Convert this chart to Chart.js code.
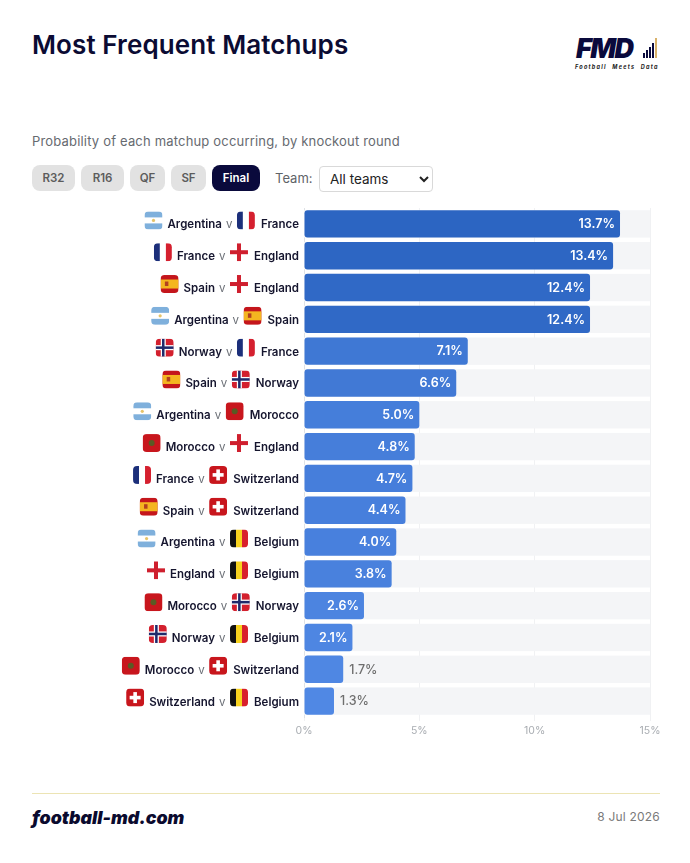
<!DOCTYPE html>
<html lang="en">
<head>
<meta charset="utf-8">
<title>Most Frequent Matchups</title>
<script src="https://cdn.jsdelivr.net/npm/chart.js@4"></script>
<style>
  html, body { margin: 0; padding: 0; background: #fff; }
  body { position: relative; width: 690px; height: 863px; overflow: hidden; font-family: Inter, sans-serif; }
  .abs { position: absolute; white-space: nowrap; }
  #title { left: 32px; top: 29px; font-size: 26px; line-height: 32px; font-weight: 600; color: #0b0b33; letter-spacing: 0.1px; }
  #subtitle { left: 32px; top: 133px; font-size: 13px; line-height: 16px; color: #666a70; letter-spacing: 0.18px; }
  .round { top: 165px; height: 26px; line-height: 26px; text-align: center; border-radius: 8px; background: #e2e2e2; color: #5c5c5c; font-size: 11.5px; font-weight: 600; }
  .round.active { background: #0a0a3c; color: #fff; }
  #teamLabel { left: 275px; top: 170px; font-size: 13px; line-height: 16px; color: #5f6368; }
  #teamSelect { left: 319px; top: 166px; width: 114px; height: 26px; font: 13.5px Inter, sans-serif; color: #222; background: #fff; border: 1px solid #d9d9d9; border-radius: 4px; padding-left: 6px; box-sizing: border-box; }
  #logoText { left: 576px; top: 36px; font-family: Inter, sans-serif; font-size: 27px; line-height: 25px; font-weight: 900; font-style: italic; color: #0a0a3c; letter-spacing: -1.6px; }
  #logoTag { left: 575px; top: 64px; font-size: 5.5px; line-height: 6px; font-weight: 700; font-style: italic; color: #222; letter-spacing: 1.25px; word-spacing: 3px; }
  .logoBar { position: absolute; bottom: 805px; width: 2px; background: #0a0a3c; }
  #chartBox { left: 0; top: 200px; width: 690px; height: 545px; }
  #rule { left: 32px; top: 793px; width: 628px; height: 1px; background: #ece4b4; }
  #site { left: 32px; top: 807px; font-size: 17.8px; line-height: 22px; font-weight: 900; font-style: italic; color: #0a0a2e; }
  #date { right: 30px; top: 809px; font-size: 12px; line-height: 16px; color: #7a7a7a; letter-spacing: 0.2px; }
</style>
</head>
<body>
  <div class="abs" id="title">Most Frequent Matchups</div>
  <div class="abs" id="logoText">FMD</div>
  <div class="logoBar" style="left:643px;height:5px"></div>
  <div class="logoBar" style="left:646px;height:8px"></div>
  <div class="logoBar" style="left:649px;height:11px"></div>
  <div class="logoBar" style="left:652px;height:15px"></div>
  <div class="logoBar" style="left:655px;height:20px;background:#d9b26a"></div>
  <div class="abs" id="logoTag">Football Meets Data</div>
  <div class="abs" id="subtitle">Probability of each matchup occurring, by knockout round</div>
  <div id="rounds"></div>
  <div class="abs" id="teamLabel">Team:</div>
  <select class="abs" id="teamSelect"><option>All teams</option></select>
  <div class="abs" id="chartBox"><canvas id="chart" width="690" height="545"></canvas></div>
  <div class="abs" id="rule"></div>
  <div class="abs" id="site">football-md.com</div>
  <div class="abs" id="date">8 Jul 2026</div>

<script>
// Finalist pairings and their probability (%) of occurring in the final
const homeTeams = ['Argentina','France','Spain','Argentina','Norway','Spain','Argentina','Morocco','France','Spain','Argentina','England','Morocco','Norway','Morocco','Switzerland'];
const awayTeams = ['France','England','England','Spain','France','Norway','Morocco','England','Switzerland','Switzerland','Belgium','Belgium','Norway','Belgium','Switzerland','Belgium'];
const probabilities = [13.7,13.4,12.4,12.4,7.1,6.6,5.0,4.8,4.7,4.4,4.0,3.8,2.6,2.1,1.7,1.3];
const xTickLabels = ['0%','5%','10%','15%'];
const roundNames = ['R32','R16','QF','SF','Final'];
const activeRound = 'Final';

// Round selector pills
const pillGeometry = [[32,43],[81,43],[130,35],[171,35],[212,48]];
const roundsEl = document.getElementById('rounds');
roundNames.forEach((name, i) => {
  const el = document.createElement('div');
  el.className = 'abs round' + (name === activeRound ? ' active' : '');
  el.style.left = pillGeometry[i][0] + 'px';
  el.style.width = pillGeometry[i][1] + 'px';
  el.textContent = name;
  roundsEl.appendChild(el);
});

// Flag painters: each fills a box already clipped to a rounded square
const paintFlag = {
  Argentina(c, x, y, s) {
    c.fillStyle = '#fff'; c.fillRect(x, y, s, s);
    c.fillStyle = '#7fb0dc';
    c.fillRect(x, y, s, s / 3); c.fillRect(x, y + 2 * s / 3, s, s / 3);
    c.fillStyle = '#e6c46a'; c.beginPath(); c.arc(x + s / 2, y + s / 2, 1.6, 0, 7); c.fill();
  },
  France(c, x, y, s) {
    c.fillStyle = '#1c2f7a'; c.fillRect(x, y, s / 3, s);
    c.fillStyle = '#fff'; c.fillRect(x + s / 3, y, s / 3, s);
    c.fillStyle = '#d5202f'; c.fillRect(x + 2 * s / 3, y, s / 3, s);
  },
  England(c, x, y, s) {
    c.fillStyle = '#fff'; c.fillRect(x, y, s, s);
    c.fillStyle = '#cf1f2e';
    c.fillRect(x + s / 2 - 2, y, 4, s); c.fillRect(x, y + s / 2 - 2, s, 4);
  },
  Spain(c, x, y, s) {
    c.fillStyle = '#c4161c'; c.fillRect(x, y, s, s);
    c.fillStyle = '#f4b620'; c.fillRect(x, y + s / 4, s, s / 2);
    c.fillStyle = '#b3411f'; c.fillRect(x + s * 0.24, y + s * 0.36, 3.5, 4.5);
  },
  Norway(c, x, y, s) {
    c.fillStyle = '#d3202e'; c.fillRect(x, y, s, s);
    c.fillStyle = '#fff';
    c.fillRect(x + s * 0.28, y, s * 0.28, s); c.fillRect(x, y + s * 0.36, s, s * 0.28);
    c.fillStyle = '#1f2a6b';
    c.fillRect(x + s * 0.35, y, s * 0.14, s); c.fillRect(x, y + s * 0.43, s, s * 0.14);
  },
  Morocco(c, x, y, s) {
    c.fillStyle = '#c8161d'; c.fillRect(x, y, s, s);
    c.fillStyle = '#5a5a24'; c.beginPath(); c.arc(x + s / 2, y + s / 2, 3, 0, 7); c.fill();
  },
  Switzerland(c, x, y, s) {
    c.fillStyle = '#c8161d'; c.fillRect(x, y, s, s);
    c.fillStyle = '#fff';
    c.fillRect(x + s / 2 - 1.8, y + 3.5, 3.6, s - 7); c.fillRect(x + 3.5, y + s / 2 - 1.8, s - 7, 3.6);
  },
  Belgium(c, x, y, s) {
    c.fillStyle = '#111'; c.fillRect(x, y, s / 3, s);
    c.fillStyle = '#f7d21e'; c.fillRect(x + s / 3, y, s / 3, s);
    c.fillStyle = '#d8202c'; c.fillRect(x + 2 * s / 3, y, s / 3, s);
  }
};

function drawFlag(c, team, x, cy) {
  const s = 18;
  c.save();
  c.beginPath();
  c.roundRect(x, cy - s / 2, s, s, team === 'England' ? 0 : 4);
  c.clip();
  paintFlag[team](c, x, cy - s / 2, s);
  c.restore();
}

// Darker blue for the more likely pairings
function barColor(v) {
  const t = (v - 1.3) / 12.4;
  const mix = (a, b) => Math.round(a + (b - a) * t);
  return `rgb(${mix(80, 44)},${mix(136, 101)},${mix(228, 194)})`;
}

// Pale full-width band behind every bar
const trackPlugin = {
  id: 'tracks',
  beforeDatasetsDraw(chart) {
    const { ctx, scales: { x } } = chart;
    ctx.save();
    ctx.fillStyle = '#f4f5f7';
    chart.getDatasetMeta(0).data.forEach(bar => {
      ctx.fillRect(x.getPixelForValue(0), bar.y - bar.height / 2, x.getPixelForValue(15) - x.getPixelForValue(0), bar.height);
    });
    ctx.restore();
  }
};

// Row labels with flags, placed from the category scale
const rowLabelPlugin = {
  id: 'rowLabels',
  afterDraw(chart) {
    const { ctx, scales: { x, y } } = chart;
    const right = x.getPixelForValue(0) - 5;
    ctx.save();
    ctx.textBaseline = 'middle';
    ctx.textAlign = 'left';
    homeTeams.forEach((home, i) => {
      const away = awayTeams[i];
      const cy = y.getPixelForValue(i);
      const textY = cy + 1;
      const flagY = cy - 3.5;
      ctx.font = '600 11.5px Inter, sans-serif';
      const awayW = ctx.measureText(away).width;
      const homeW = ctx.measureText(home).width;
      let cursor = right - awayW;
      ctx.fillStyle = '#15152e';
      ctx.fillText(away, cursor, textY);
      cursor -= 24;
      drawFlag(ctx, away, cursor, flagY);
      cursor -= 11;
      ctx.fillStyle = '#6b6f76';
      ctx.font = '400 11.5px Inter, sans-serif';
      ctx.fillText('v', cursor, textY);
      ctx.font = '600 11.5px Inter, sans-serif';
      cursor -= 4 + homeW;
      ctx.fillStyle = '#15152e';
      ctx.fillText(home, cursor, textY);
      cursor -= 23;
      drawFlag(ctx, home, cursor, flagY);
    });
    ctx.restore();
  }
};

// Percent labels: inside the bar when it is long enough, otherwise beside it
const valueLabelPlugin = {
  id: 'valueLabels',
  afterDatasetsDraw(chart) {
    const { ctx } = chart;
    ctx.save();
    ctx.textBaseline = 'middle';
    chart.getDatasetMeta(0).data.forEach((bar, i) => {
      const v = probabilities[i];
      const text = v.toFixed(1) + '%';
      if (v >= 2) {
        ctx.font = '600 12.5px Inter, sans-serif';
        ctx.fillStyle = '#fff';
        ctx.textAlign = 'right';
        ctx.fillText(text, bar.x - 5, bar.y + 0.5);
      } else {
        ctx.font = '500 12.5px Inter, sans-serif';
        ctx.fillStyle = '#6e6e6e';
        ctx.textAlign = 'left';
        ctx.fillText(text, bar.x + 6, bar.y + 0.5);
      }
    });
    ctx.restore();
  }
};

new Chart(document.getElementById('chart'), {
  type: 'bar',
  data: {
    labels: homeTeams.map((h, i) => h + ' v ' + awayTeams[i]),
    datasets: [{
      data: probabilities,
      backgroundColor: probabilities.map(barColor),
      borderRadius: 3,
      borderSkipped: false,
      barPercentage: 0.86,
      categoryPercentage: 1
    }]
  },
  options: {
    indexAxis: 'y',
    responsive: false,
    maintainAspectRatio: false,
    animation: false,
    layout: { padding: { left: 304, right: 40, top: 8, bottom: 0 } },
    plugins: { legend: { display: false }, tooltip: { enabled: false } },
    scales: {
      x: {
        min: 0, max: 15,
        afterFit(scale) { scale.height = 28; },
        grid: { color: '#f0f1f3', tickLength: 4 },
        border: { display: false },
        ticks: {
          stepSize: 5, padding: 4, maxRotation: 0,
          color: '#a9adb2',
          font: { family: 'Inter, sans-serif', size: 10.5 },
          callback: (v, i) => xTickLabels[i]
        }
      },
      y: {
        afterFit(scale) { scale.width = 0; },
        grid: { display: false },
        border: { color: '#dfe2e6' },
        ticks: { display: false }
      }
    }
  },
  plugins: [trackPlugin, valueLabelPlugin, rowLabelPlugin]
});
</script>
</body>
</html>
